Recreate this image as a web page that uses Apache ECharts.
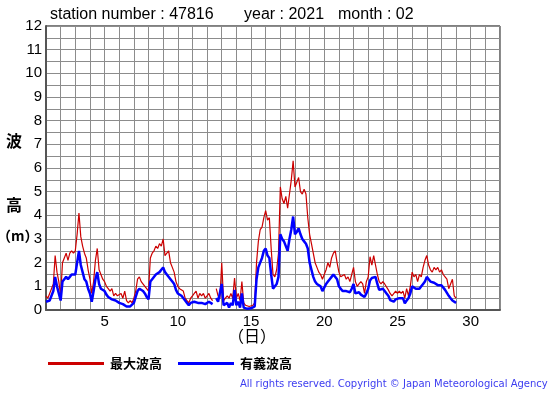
<!DOCTYPE html>
<html>
<head>
<meta charset="utf-8">
<script src="https://cdn.jsdelivr.net/npm/echarts@6/dist/echarts.min.js"></script>
<style>
html,body{margin:0;padding:0;background:#fff;}
#chart{width:555px;height:395px;}
</style>
</head>
<body>
<div id="chart"></div>
<script>
// Observations every 3 hours, starting day 1 00h (Feb 2021, station 47816)
const startDay = 1;
const stepHours = 3;
// 最大波高 (max wave height, m)
const maxWave = [
  0.6,0.5,0.7,0.9,1.1,2.3,1.6,1.2,
  0.6,2.0,2.2,2.4,2.1,2.4,2.5,2.4,
  2.5,3.2,4.1,3.1,2.7,2.4,2.2,1.7,
  1.3,0.7,1.2,2.1,2.6,1.7,1.5,1.3,
  1.2,1.0,0.9,0.8,0.9,0.6,0.7,0.6,
  0.6,0.7,0.5,0.8,0.4,0.3,0.4,0.3,
  0.5,0.8,1.3,1.4,1.2,1.2,1.0,0.9,
  0.8,2.2,2.4,2.5,2.7,2.6,2.8,2.7,
  3.0,2.3,2.4,2.5,2.0,1.8,1.6,1.2,
  1.0,0.9,0.85,0.8,0.5,0.4,0.3,0.5,
  0.6,0.7,0.8,0.5,0.7,0.6,0.7,0.5,
  0.6,0.7,0.5,0.4,null,0.9,0.6,0.5,
  2.0,0.4,0.5,0.6,0.5,0.7,0.5,1.35,
  0.5,0.7,0.4,1.2,0.3,0.2,0.2,0.15,
  0.2,0.2,0.3,2.0,2.9,3.4,3.5,3.9,
  4.2,3.8,3.9,2.6,1.5,1.4,1.7,2.4,
  5.2,4.7,4.5,4.8,4.3,4.9,5.5,6.3,
  5.2,5.4,5.6,5.0,4.9,5.1,4.9,3.9,
  3.2,2.8,2.4,2.0,1.8,1.6,1.5,1.3,
  1.3,1.7,2.0,1.8,2.2,2.4,2.5,2.0,
  1.6,1.4,1.4,1.5,1.3,1.4,1.2,1.5,
  1.8,1.2,1.0,1.1,1.2,1.1,0.7,1.2,
  1.4,2.25,1.9,2.3,2.3,1.5,1.2,1.1,
  1.2,1.1,1.1,0.85,0.7,0.6,0.55,0.8,
  0.7,0.8,0.7,0.8,0.5,0.9,0.6,1.0,
  1.6,1.4,1.5,1.2,1.5,1.4,1.8,2.1,
  2.3,1.9,1.7,1.6,1.8,1.7,1.8,1.6,
  1.7,1.5,1.4,1.3,0.9,1.1,1.3,0.6,
  0.5
];
// 有義波高 (significant wave height, m)
const sigWave = [
  0.35,0.3,0.4,0.6,0.8,1.4,1.0,0.7,
  0.4,1.2,1.3,1.4,1.3,1.4,1.5,1.5,
  1.5,2.0,2.5,1.9,1.6,1.3,1.2,0.9,
  0.7,0.35,0.8,1.3,1.6,1.1,0.9,0.85,
  0.8,0.65,0.55,0.5,0.45,0.4,0.4,0.35,
  0.3,0.3,0.25,0.3,0.15,0.1,0.15,0.2,
  0.3,0.55,0.8,0.9,0.85,0.8,0.7,0.55,
  0.45,1.2,1.3,1.35,1.5,1.5,1.6,1.7,
  1.8,1.6,1.5,1.45,1.3,1.2,1.1,0.85,
  0.7,0.65,0.6,0.55,0.4,0.3,0.2,0.3,
  0.3,0.35,0.35,0.3,0.35,0.3,0.35,0.25,
  0.3,0.35,0.3,0.25,null,0.5,0.35,0.3,
  1.1,0.2,0.25,0.3,0.1,0.3,0.2,0.85,
  0.2,0.35,0.1,0.7,0.1,0.07,0.05,0.05,
  0.07,0.1,0.15,1.3,1.8,2.0,2.2,2.5,
  2.6,2.3,2.2,1.5,0.9,0.85,1.1,1.4,
  3.2,3.0,2.9,2.7,2.5,3.0,3.4,3.95,
  3.2,3.3,3.45,3.2,3.0,2.9,2.8,2.6,
  2.0,1.7,1.4,1.2,1.1,1.05,1.0,0.8,
  0.85,1.1,1.2,1.3,1.4,1.5,1.5,1.3,
  1.0,0.9,0.8,0.85,0.8,0.85,0.75,0.9,
  1.1,0.7,0.75,0.75,0.65,0.65,0.55,0.7,
  0.9,1.25,1.35,1.35,1.4,1.1,0.85,0.85,
  0.9,0.8,0.7,0.6,0.42,0.4,0.35,0.45,
  0.45,0.5,0.45,0.5,0.28,0.4,0.5,0.7,
  1.0,1.05,0.9,0.85,0.9,1.0,1.1,1.2,
  1.4,1.3,1.2,1.2,1.15,1.1,1.05,1.0,
  1.05,1.0,0.85,0.8,0.6,0.5,0.4,0.35,
  0.3
];
const seriesNames = ['最大波高', '有義波高'];
const xTickLabels = [5, 10, 15, 20, 25, 30];
const yTickLabels = [0,1,2,3,4,5,6,7,8,9,10,11,12];
const titleParts = ['station number : 47816', 'year : 2021', 'month : 02'];
const copyright = 'All rights reserved. Copyright \u00A9 Japan Meteorological Agency';

function toPoints(arr) {
  return arr.map((v, i) => [startDay + i * stepHours / 24, v === null ? '-' : v]);
}

const chart = echarts.init(document.getElementById('chart'), null, {renderer: 'canvas'});
const font = 'Liberation Sans, Arial, sans-serif';
const cjk = '"Noto Sans CJK JP", sans-serif';

chart.setOption({
  animation: false,
  backgroundColor: '#fff',
  grid: {left: 46, right: 55, top: 26, bottom: 85, show: true, borderColor: '#000', borderWidth: 1},
  xAxis: {
    type: 'value', min: 1, max: 32, interval: 1,
    axisLine: {show: true, onZero: false, lineStyle: {color: '#555', width: 2}},
    axisTick: {show: false},
    splitLine: {show: true, lineStyle: {color: '#8c8c8c', width: 1}},
    axisLabel: {
      color: '#000', fontSize: 15, fontFamily: font, margin: 4,
      formatter: v => xTickLabels.indexOf(v) >= 0 ? String(v) : ''
    }
  },
  yAxis: {
    type: 'value', min: 0, max: 12, interval: 0.5,
    axisLine: {show: true, lineStyle: {color: '#555', width: 2}},
    axisTick: {show: false},
    splitLine: {show: true, lineStyle: {color: '#8c8c8c', width: 1}},
    axisLabel: {
      color: '#000', fontSize: 15, fontFamily: font, margin: 4,
      formatter: v => yTickLabels.indexOf(v) >= 0 ? String(v) : ''
    }
  },
  legend: {
    left: 43, top: 352, itemWidth: 56, itemHeight: 3, itemGap: 16,
    icon: 'rect',
    textStyle: {color: '#000', fontSize: 13, fontWeight: 'bold', fontFamily: cjk, padding: [0, 0, 0, 1]},
    data: seriesNames
  },
  series: [
    {
      name: seriesNames[0], type: 'line', showSymbol: false, connectNulls: false,
      data: toPoints(maxWave), color: '#cc0000',
      lineStyle: {color: '#cc0000', width: 1.2}, z: 2
    },
    {
      name: seriesNames[1], type: 'line', showSymbol: false, connectNulls: false,
      data: toPoints(sigWave), color: '#0000ff',
      lineStyle: {color: '#0000ff', width: 2.5}, z: 3
    }
  ],
  graphic: [
    {type: 'text', left: 50, top: 7, style: {text: titleParts[0], font: '16px ' + font, fill: '#000'}},
    {type: 'text', left: 244, top: 7, style: {text: titleParts[1], font: '16px ' + font, fill: '#000'}},
    {type: 'text', left: 338, top: 7, style: {text: titleParts[2], font: '16px ' + font, fill: '#000'}},
    {type: 'text', left: 6, top: 133, style: {text: '波', font: 'bold 16px ' + cjk, fill: '#000'}},
    {type: 'text', left: 6, top: 197, style: {text: '高', font: 'bold 16px ' + cjk, fill: '#000'}},
    {type: 'text', left: -3, top: 229, style: {text: '（m）', font: 'bold 14px ' + cjk, fill: '#000'}},
    {type: 'text', left: 228, top: 328, style: {text: '（日）', font: '16px ' + cjk, fill: '#000'}},
    {type: 'text', left: 240, top: 379, style: {text: copyright, font: '10px DejaVu Sans, sans-serif', fill: '#3c3cf0'}}
  ]
});
</script>
</body>
</html>
